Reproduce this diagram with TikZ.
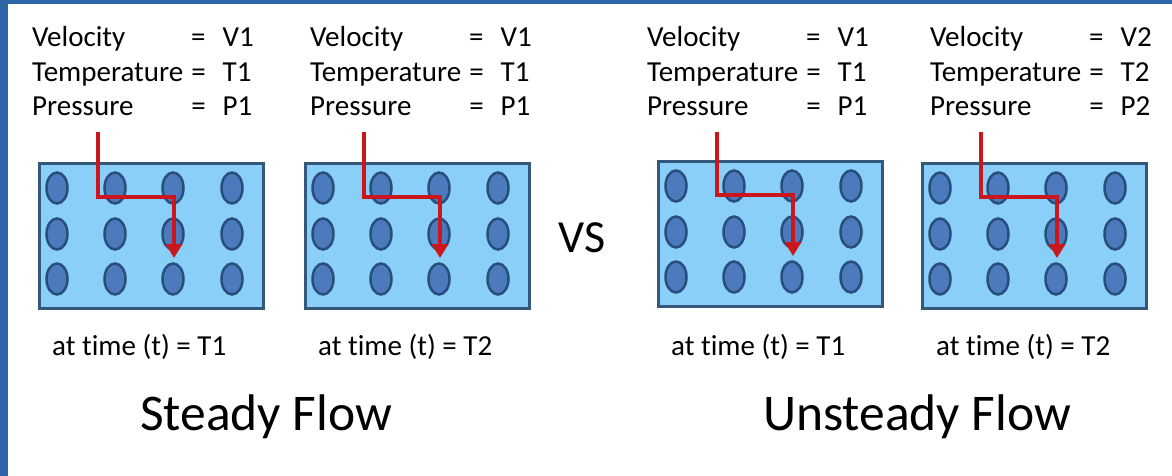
\documentclass[tikz,border=0pt]{standalone}
\usepackage{fontspec}
\setmainfont{Carlito}[Ligatures=NoCommon]
\usetikzlibrary{arrows.meta,shapes.geometric}
\definecolor{frameblue}{RGB}{46,101,166}
\definecolor{boxfill}{RGB}{137,207,247}
\definecolor{boxline}{RGB}{52,88,122}
\definecolor{dotfill}{RGB}{76,122,188}
\definecolor{dotline}{RGB}{40,78,126}
\definecolor{flowred}{RGB}{204,22,30}
\newcommand{\propblock}[3]{\begin{tabular}[t]{@{}l@{\hspace{8pt}}l@{\hspace{17pt}}l@{}}Velocity&=&#1\\Temperature&=&#2\\Pressure&=&#3\end{tabular}}
\begin{document}
\begin{tikzpicture}[x=1pt,y=-1pt,
  tank/.style={draw=boxline, fill=boxfill, line width=3pt, minimum width=224pt,
    minimum height=145pt, inner sep=0pt, anchor=north west},
  particle/.style={ellipse, draw=dotline, fill=dotfill, line width=2.5pt,
    minimum width=21pt, minimum height=31pt, inner sep=0pt},
  flow/.style={draw=flowred, line width=4.5pt, line join=miter,
    -{Triangle[width=16pt,length=14pt]}},
  props/.style={anchor=base west, inner sep=0pt, font=\fontsize{29}{34.5}\selectfont},
  caption/.style={anchor=base west, inner sep=0pt, font=\fontsize{29}{34}\selectfont},
  title/.style={anchor=base west, inner sep=0pt, font=\fontsize{51.5}{60}\selectfont}]
\useasboundingbox (0,0) rectangle (1172,476);
\fill[white] (0,0) rectangle (1172,476);
\fill[frameblue] (0,0) rectangle (1172,4);
\fill[frameblue] (0,0) rectangle (8,476);

% property blocks
\node[props] (pa) at (32,47) {\propblock{V1}{T1}{P1}};
\node[props] (pb) at (310,47) {\propblock{V1}{T1}{P1}};
\node[props] (pc) at (647,47) {\propblock{V1}{T1}{P1}};
\node[props] (pd) at (930,47) {\propblock{V2}{T2}{P2}};

% tanks with particles and flow paths
\foreach \L/\T/\n in {36/160/a, 302/160/b, 655/158/c, 919/160/d}{
  \node[tank] (\n-box) at ({\L+1.5},{\T+1.5}) {};
  \foreach \cx/\ci in {21/1,79/2,137/3,196/4}{
    \foreach \cy/\cj in {28/1,74/2,119/3}{
      \node[particle] (\n-p\ci\cj) at ({\L+\cx},{\T+\cy}) {};
    }
  }
  \coordinate (\n-s) at ({\L+62},132);
  \coordinate (\n-b1) at ({\L+62},{\T+37});
  \coordinate (\n-b2) at ({\L+138},{\T+37});
  \coordinate (\n-e) at ({\L+138},{\T+98});
  \draw[flow] (\n-s) -- (\n-b1) -- (\n-b2) -- (\n-e);
}

% captions
\node[caption] (ta) at (52,355) {at time (t) = T1};
\node[caption] (tb) at (318,355) {at time (t) = T2};
\node[caption] (tc) at (671,355) {at time (t) = T1};
\node[caption] (td) at (936,355) {at time (t) = T2};

\node[anchor=base west, inner sep=0pt, font=\fontsize{46}{52}\selectfont] (vs) at (558,252) {VS};

\node[title] (steady) at (140,430) {Steady Flow};
\node[title] (unsteady) at (763,430) {Unsteady Flow};
\end{tikzpicture}
\end{document}
